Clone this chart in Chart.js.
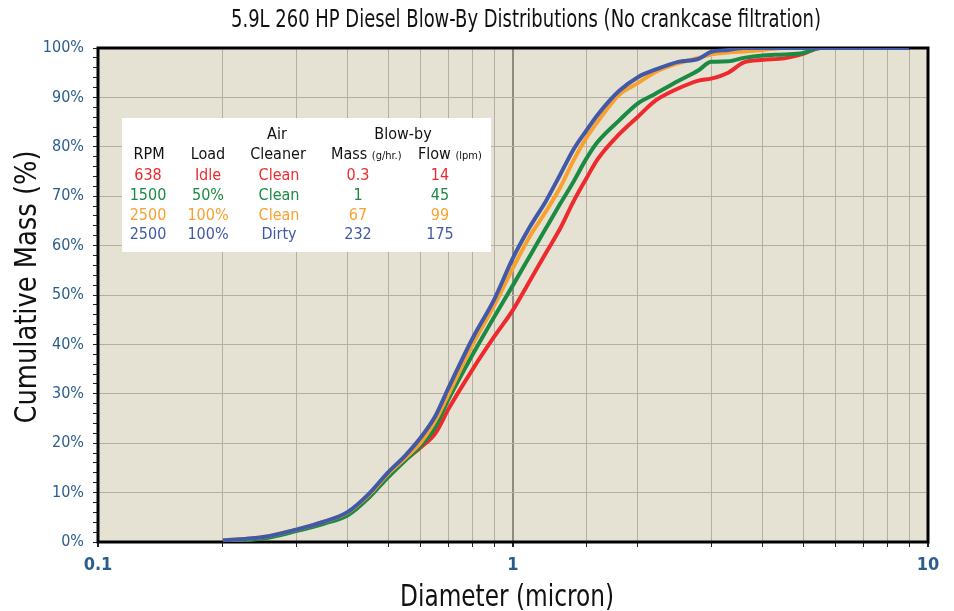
<!DOCTYPE html>
<html>
<head>
<meta charset="utf-8">
<script src="https://cdn.jsdelivr.net/npm/chart.js@4.4.1/dist/chart.umd.min.js"></script>
<style>
  html, body { margin: 0; padding: 0; background: #fff; }
</style>
</head>
<body>
<canvas id="myChart" width="954" height="611"></canvas>
<script>
// particle diameter (micron) where each curve was read
const diameters = [0.2, 0.25, 0.3, 0.35, 0.4, 0.45, 0.5, 0.55, 0.6, 0.65, 0.7, 0.8, 0.9, 1.0, 1.1, 1.2, 1.3, 1.4, 1.5, 1.6, 1.8, 2.0, 2.2, 2.5, 2.8, 3.0, 3.3, 3.6, 4.0, 4.5, 5.0, 5.5, 6, 7, 8, 9];

// cumulative mass (%) for each test condition
const idle638 = [0.3, 0.8, 2.3, 3.9, 5.6, 9.2, 13.4, 16.6, 19.2, 22.0, 27.0, 35.0, 41.5, 47.0, 53.0, 58.5, 63.5, 69.0, 73.5, 77.5, 82.5, 86.1, 89.3, 91.8, 93.4, 93.8, 95.0, 97.1, 97.6, 97.9, 98.8, 100, 100, 100, 100, 100];
const half1500 = [0.2, 0.7, 2.2, 3.7, 5.4, 9.0, 13.1, 16.5, 19.5, 23.3, 29.0, 38.0, 45.5, 52.0, 58.0, 63.5, 68.5, 73.0, 77.5, 81.0, 85.3, 88.8, 90.7, 93.3, 95.5, 97.2, 97.3, 98.0, 98.5, 98.7, 99.0, 100, 100, 100, 100, 100];
const full2500clean = [0.3, 1.0, 2.5, 4.1, 6.0, 9.6, 13.8, 17.0, 20.2, 24.6, 30.0, 40.0, 47.8, 55.5, 62.0, 66.9, 71.8, 77.3, 81.7, 85.1, 90.5, 92.9, 95.1, 96.9, 98.0, 98.7, 99.1, 99.3, 99.6, 100, 100, 100, 100, 100, 100, 100];
const full2500dirty = [0.3, 1.0, 2.5, 4.1, 6.1, 9.8, 14.1, 17.5, 21.2, 25.5, 31.3, 41.3, 49.0, 57.5, 63.9, 69.0, 74.4, 79.5, 83.2, 86.5, 91.3, 94.1, 95.6, 97.2, 97.8, 99.2, 99.6, 100, 100, 100, 100, 100, 100, 100, 100, 100];

// legend table
const rpm = ['638', '1500', '2500', '2500'];
const load = ['Idle', '50%', '100%', '100%'];
const cleaner = ['Clean', 'Clean', 'Clean', 'Dirty'];
const massGph = ['0.3', '1', '67', '232'];
const flowLpm = ['14', '45', '99', '175'];

const xTickLabels = [0.1, 1, 10];

const colors = ['#ee2a2e', '#1b8a42', '#f8a12f', '#4159a7'];
const FONT = "'Liberation Sans Narrow', 'DejaVu Sans Condensed', 'Roboto', sans-serif";
const tickBlue = '#2b5d8c';

const toPoints = arr => diameters.map((d, i) => ({ x: d, y: arr[i] }));
const isLabelled = v => xTickLabels.some(t => Math.abs(Math.log10(v) - Math.log10(t)) < 1e-6);

// squeeze text to a given width, the original uses a condensed face
function condensedText(ctx, text, x, y, size, width, angle) {
  ctx.save();
  ctx.font = size + 'px ' + FONT;
  ctx.fillStyle = '#111';
  ctx.textAlign = 'center';
  ctx.textBaseline = 'alphabetic';
  ctx.translate(x, y);
  if (angle) ctx.rotate(angle);
  const w = ctx.measureText(text).width;
  ctx.scale(Math.min(1, width / w), 1);
  ctx.fillText(text, 0, 0);
  ctx.restore();
}

// beige plot background + black frame
const plotFrame = {
  id: 'plotFrame',
  beforeDraw(chart) {
    const { ctx, chartArea: a } = chart;
    ctx.save();
    ctx.fillStyle = '#e5e2d3';
    ctx.fillRect(a.left, a.top, a.right - a.left, a.bottom - a.top);
    ctx.restore();
  },
  beforeDatasetsDraw(chart) {
    const { ctx, chartArea: a } = chart;
    ctx.save();
    ctx.strokeStyle = '#000';
    ctx.lineWidth = 3;
    ctx.strokeRect(a.left, a.top, a.right - a.left, a.bottom - a.top);
    ctx.restore();
  },
  afterDraw(chart) {
    const ctx = chart.ctx;
    condensedText(ctx, '5.9L 260 HP Diesel Blow-By Distributions (No crankcase filtration)', 526, 27, 25, 590);
    condensedText(ctx, 'Diameter (micron)', 507, 606, 30, 214);
    condensedText(ctx, 'Cumulative Mass (%)', 36, 287, 30, 273, -Math.PI / 2);
  }
};

// the white table legend in the upper left
const tableLegend = {
  id: 'tableLegend',
  afterDatasetsDraw(chart) {
    const ctx = chart.ctx;
    const left = 122, top = 118;
    ctx.save();
    ctx.fillStyle = '#fff';
    ctx.fillRect(left, top, 369, 134);
    ctx.textAlign = 'center';
    ctx.textBaseline = 'middle';
    ctx.fillStyle = '#111';
    ctx.font = '16px ' + FONT;
    ctx.fillText('Air', 277, 135);
    ctx.fillText('Blow-by', 403, 135);
    ctx.fillText('RPM', 149, 155);
    ctx.fillText('Load', 208, 155);
    ctx.fillText('Cleaner', 278, 155);
    // "Mass (g/hr.)" and "Flow (lpm)" with small units
    ctx.textAlign = 'left';
    ctx.fillText('Mass', 331, 155);
    let w = ctx.measureText('Mass ').width;
    ctx.font = '11px ' + FONT;
    ctx.fillText('(g/hr.)', 331 + w, 156);
    ctx.font = '16px ' + FONT;
    ctx.fillText('Flow', 418, 155);
    w = ctx.measureText('Flow ').width;
    ctx.font = '11px ' + FONT;
    ctx.fillText('(lpm)', 418 + w, 156);

    ctx.textAlign = 'center';
    ctx.font = '16px ' + FONT;
    const cols = [[rpm, 148], [load, 208], [cleaner, 279], [massGph, 358], [flowLpm, 440]];
    for (let r = 0; r < rpm.length; r++) {
      const y = 176 + r * 19.7;
      ctx.fillStyle = colors[r];
      cols.forEach(([arr, x]) => ctx.fillText(arr[r], x, y));
    }
    ctx.restore();
  }
};

const chartArea = document.getElementById('myChart').getContext('2d');

const myChart = new Chart(chartArea, {
  type: 'scatter',
  data: {
    // blue first so it is drawn on top
    datasets: [
      { label: '2500 100% Dirty', data: toPoints(full2500dirty), borderColor: colors[3] },
      { label: '2500 100% Clean', data: toPoints(full2500clean), borderColor: colors[2] },
      { label: '1500 50% Clean', data: toPoints(half1500), borderColor: colors[1] },
      { label: '638 Idle Clean', data: toPoints(idle638), borderColor: colors[0] }
    ].map(ds => Object.assign(ds, {
      showLine: true,
      borderWidth: 4,
      pointRadius: 0,
      cubicInterpolationMode: 'monotone',
      backgroundColor: ds.borderColor
    }))
  },
  options: {
    responsive: false,
    animation: false,
    layout: { padding: { top: 48, right: 26, bottom: 0, left: 0 } },
    plugins: {
      legend: { display: false },
      tooltip: { enabled: false },
      title: { display: false }
    },
    scales: {
      x: {
        type: 'logarithmic',
        min: 0.1,
        max: 10,
        afterFit: s => { s.height = 69; },
        border: { display: false },
        grid: {
          color: c => (c.tick && isLabelled(c.tick.value)) ? '#8f8b80' : '#b3afa2',
          lineWidth: c => (c.tick && isLabelled(c.tick.value)) ? 2 : 1,
          tickColor: '#222',
          tickLength: 5
        },
        ticks: {
          autoSkip: false,
          maxRotation: 0,
          padding: 8,
          color: tickBlue,
          font: { family: FONT, size: 18, weight: 'bold' },
          callback: v => isLabelled(v) ? String(+v.toPrecision(3)) : ''
        }
      },
      y: {
        min: 0,
        max: 100,
        afterFit: s => { s.width = 98; },
        border: { display: false },
        grid: {
          color: c => (c.tick && c.tick.value % 10 === 0) ? '#b3afa2' : 'rgba(0,0,0,0)',
          tickColor: '#222',
          tickLength: 5
        },
        ticks: {
          stepSize: 2,
          autoSkip: false,
          padding: 9,
          color: tickBlue,
          font: { family: FONT, size: 16 },
          callback: v => v % 10 === 0 ? v + '%' : ''
        }
      }
    }
  },
  plugins: [plotFrame, tableLegend]
});
</script>
</body>
</html>
